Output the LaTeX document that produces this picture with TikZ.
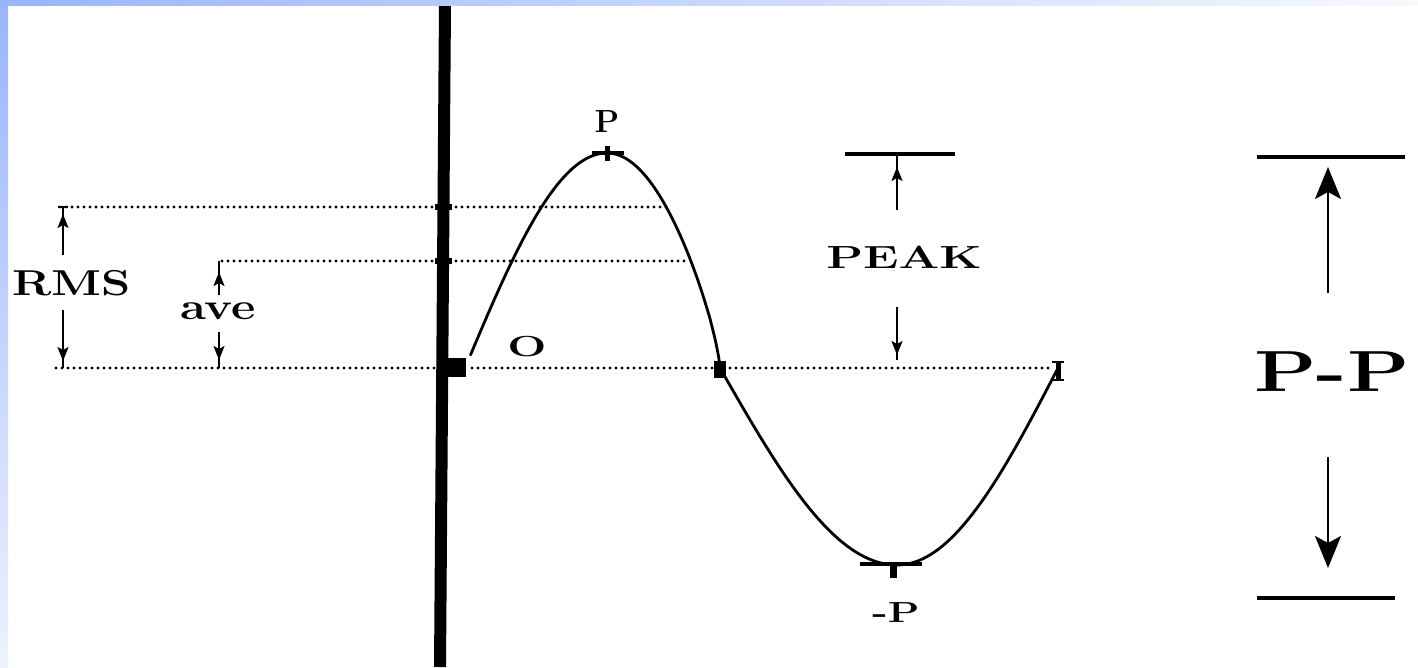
\documentclass[tikz,border=0pt]{standalone}
\usepackage{fontspec}
\usetikzlibrary{arrows.meta}
\definecolor{stripA}{HTML}{9AB5FF}
\definecolor{stripB}{HTML}{EEF2FF}
\definecolor{stripC}{HTML}{F7F9FF}
\tikzset{
  dotl/.style={line width=3.2pt, dash pattern=on 0pt off 6pt, line cap=round},
  wave/.style={line width=2.8pt, line join=round, line cap=round},
  dimline/.style={line width=1.8pt},
  tipup/.style={line width=1.8pt, -{Stealth[length=14pt,width=11pt,inset=3pt]}},
  bigtip/.style={line width=2.2pt, -{Stealth[length=32pt,width=26pt,inset=7pt]}},
  barline/.style={line width=3.4pt},
  lbl/.style={inner sep=0pt, text=black}
}
\begin{document}
\begin{tikzpicture}[x=1pt,y=-1pt]
\useasboundingbox (0,0) rectangle (1418,667);
\fill[white] (0,0) rectangle (1418,667);

% vertical axis
\draw[line width=12pt] (445,4) -- (440,667);
\fill (435,204) rectangle (452,210);
\fill (435,258) rectangle (452,264);
\fill (445,358) rectangle (466,377);

% dotted reference lines
\draw[dotl] (60,207) -- (668,207);
\draw[dotl] (222,261) -- (688,261);
\draw[dotl] (56,368) -- (436,368);
\draw[dotl] (472,368) -- (1052,368);

% waveform
\draw[wave] plot[domain=3.5:90,samples=50] ({465+142*\x/90},{368-215*sin(\x)})
  -- plot[domain=90:179,samples=50] ({607+113*(\x-90)/90},{368-215*(abs(sin(\x)))^0.75})
  -- (720,368)
  -- plot[domain=180:270,samples=50] ({720+177*(\x-180)/90},{368-197*sin(\x)})
  -- plot[domain=270:360,samples=50] ({897+161*(\x-270)/90},{368-197*sin(\x)});

% markers on the curve
\draw[barline] (592,153) -- (624,153);
\draw[line width=5pt] (607,146) -- (607,161);
\fill (714,361) rectangle (726,378);
\draw[line width=5pt] (1058,362) -- (1058,380);
\draw[line width=2pt] (1052,362) -- (1064,362);
\draw[line width=2pt] (1052,380) -- (1064,380);
\draw[barline] (860,564) -- (922,564);
\draw[line width=7pt] (893,564) -- (893,578);

% labels on curve
\node[lbl, font=\fontsize{32}{36}\selectfont\bfseries, xscale=1.0] (plabel) at (607,122) {P};
\node[lbl, font=\fontsize{29}{32}\selectfont\bfseries, xscale=1.6] (olabel) at (527,347) {O};
\node[lbl, font=\fontsize{29}{32}\selectfont\bfseries, xscale=1.42] (mplabel) at (896,613) {-P};

% RMS dimension
\draw[dimline] (63,207) -- (63,255);
\draw[tipup] (63,234) -- (63,214);
\draw[dimline] (58,207) -- (68,207);
\draw[dimline] (63,310) -- (63,368);
\draw[tipup] (63,342) -- (63,361);
\node[lbl, font=\fontsize{36}{40}\selectfont\bfseries, xscale=1.3, anchor=east] (rms) at (131,283) {RMS};

% ave dimension
\draw[dimline] (219,261) -- (219,295);
\draw[tipup] (219,290) -- (219,272);
\draw[dimline] (219,332) -- (219,368);
\draw[tipup] (219,342) -- (219,360);
\node[lbl, font=\fontsize{37}{40}\selectfont\bfseries, xscale=1.28] (ave) at (218,311) {ave};

% PEAK dimension
\draw[barline] (845,154) -- (955,154);
\draw[dimline] (897,154) -- (897,210);
\draw[tipup] (897,186) -- (897,167);
\draw[dimline] (897,307) -- (897,360);
\draw[tipup] (897,336) -- (897,355);
\node[lbl, font=\fontsize{32}{36}\selectfont\bfseries, xscale=1.5] (peak) at (904,257) {PEAK};

% P-P dimension
\draw[barline] (1257,157) -- (1405,157);
\draw[barline] (1257,598) -- (1395,598);
\draw[dimline] (1328,293) -- (1328,210);
\draw[bigtip] (1328,215) -- (1328,167);
\draw[dimline] (1328,457) -- (1328,540);
\draw[bigtip] (1328,530) -- (1328,568);
\node[lbl, font=\fontsize{58}{62}\selectfont\bfseries, xscale=1.4] (pp) at (1332,372) {P-P};

% slide border strips
\shade[top color=stripA, bottom color=stripB] (0,0) rectangle (8,667);
\shade[left color=stripA, right color=stripC] (0,0) rectangle (1418,5);
\end{tikzpicture}
\end{document}
